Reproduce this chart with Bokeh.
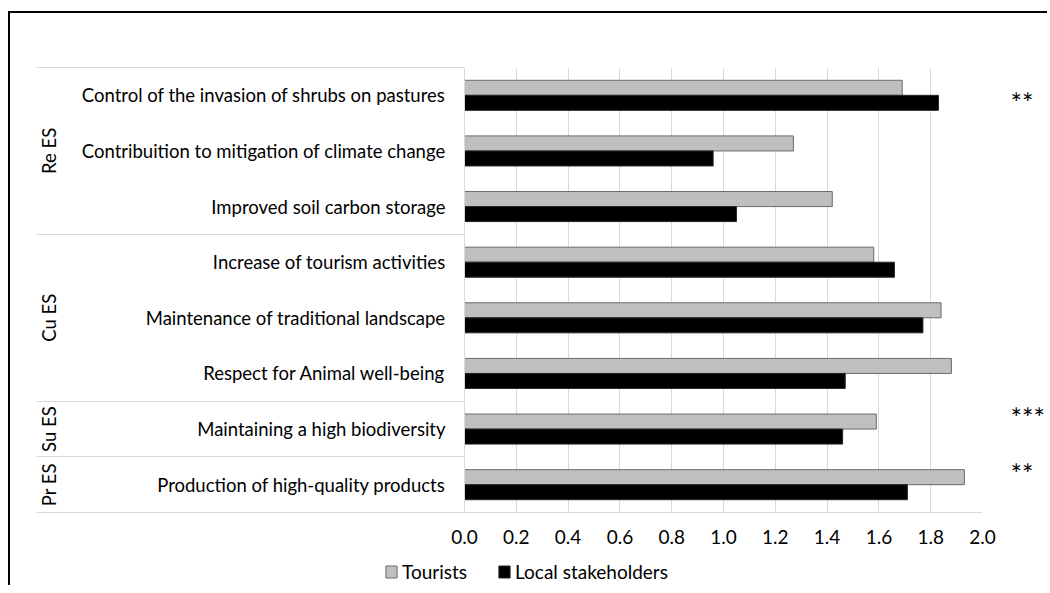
from bokeh.plotting import figure
from bokeh.layouts import column
from bokeh.models import (ColumnDataSource, FixedTicker, LinearAxis, Legend,
                          LegendItem, NumeralTickFormatter, Range1d)
from bokeh.embed import file_html
from bokeh.resources import INLINE

# ---------------- data ----------------
categories = [
    "Control of the invasion of shrubs on pastures",
    "Contribuition to mitigation of climate change",
    "Improved soil carbon storage",
    "Increase of tourism activities",
    "Maintenance of traditional landscape",
    "Respect for Animal well-being",
    "Maintaining a high biodiversity",
    "Production of high-quality products",
]
groups = ["Re ES", "Re ES", "Re ES", "Cu ES", "Cu ES", "Cu ES", "Su ES", "Pr ES"]
tourists = [1.69, 1.27, 1.42, 1.58, 1.84, 1.88, 1.59, 1.93]
local_stakeholders = [1.83, 0.96, 1.05, 1.66, 1.77, 1.47, 1.46, 1.71]
significance = ["**", "", "", "", "", "", "***", "**"]
x_ticks = [0.0, 0.2, 0.4, 0.6, 0.8, 1.0, 1.2, 1.4, 1.6, 1.8, 2.0]
series_names = ["Tourists", "Local stakeholders"]

# ---------------- layout / style ----------------
FONT = "Lato"
GRID = "#d9d9d9"
TXT = "#000000"
BAR_H = 0.27
DODGE = 0.135
star_shift = [-0.13, 0, 0, 0, 0, 0, 0.21, 0.2]
T_STYLE = dict(fill_color="#bfbfbf", line_color="#6b6b6b", line_width=1)
L_STYLE = dict(fill_color="#000000", line_color="#262626", line_width=1)

n = len(categories)
centers = [n - i - 0.5 for i in range(n)]

# group boundaries & centres
boundaries = [float(n)]
group_centers = {}
start = 0
for i in range(1, n + 1):
    if i == n or groups[i] != groups[i - 1]:
        boundaries.append(float(n - i))
        group_centers[(n - start + n - i) / 2.0] = groups[start]
        start = i

src_t = ColumnDataSource(dict(y=[c + DODGE for c in centers], v=tourists, cat=categories))
src_l = ColumnDataSource(dict(y=[c - DODGE for c in centers], v=local_stakeholders, cat=categories))

p = figure(frame_width=518, frame_height=445,
           x_range=Range1d(0, x_ticks[-1]), y_range=Range1d(0, n),
           output_backend="svg", toolbar_location=None,
           min_border_left=454, min_border_right=58,
           min_border_top=54, min_border_bottom=40)
p.outline_line_color = None
p.background_fill_color = "white"
p.border_fill_color = "white"

r_t = p.hbar(y="y", right="v", left=0, height=BAR_H, source=src_t, **T_STYLE)
r_l = p.hbar(y="y", right="v", left=0, height=BAR_H, source=src_l, **L_STYLE)

# x axis
xa = p.xaxis[0]
xa.ticker = FixedTicker(ticks=x_ticks)
xa.formatter = NumeralTickFormatter(format="0.0")
xa.axis_line_color = GRID
xa.major_tick_line_color = None
xa.minor_tick_line_color = None
xa.major_label_text_font = FONT
xa.major_label_text_font_size = "19px"
xa.major_label_text_color = TXT
xa.major_label_standoff = 11

p.xgrid.ticker = FixedTicker(ticks=x_ticks)
p.xgrid.grid_line_color = GRID
p.ygrid.grid_line_color = None

# y axis: category labels
ya = p.yaxis[0]
ya.ticker = FixedTicker(ticks=centers)
ya.major_label_overrides = {c: cat for c, cat in zip(centers, categories)}
ya.axis_line_color = GRID
ya.major_tick_line_color = None
ya.minor_tick_line_color = None
ya.major_label_text_font = FONT
ya.major_label_text_font_size = "18.5px"
ya.major_label_text_color = TXT
ya.major_label_standoff = 13

# group axis (outer left); its minor ticks draw the group separators
ga = LinearAxis(ticker=FixedTicker(ticks=list(group_centers.keys()),
                                   minor_ticks=boundaries),
                major_label_overrides=group_centers,
                major_label_orientation="vertical")
ga.axis_line_color = None
ga.major_tick_line_color = None
ga.minor_tick_line_color = GRID
ga.minor_tick_in = 386
ga.minor_tick_out = 42
ga.major_label_text_font = FONT
ga.major_label_text_font_size = "18.5px"
ga.major_label_text_color = TXT
ga.major_label_standoff = -23
p.add_layout(ga, "left")

# significance stars (right axis)
star_pos = [c + s for c, s, m in zip(centers, star_shift, significance) if m]
star_lab = [m for m in significance if m]
sa = LinearAxis(ticker=FixedTicker(ticks=star_pos),
                major_label_overrides={y: m for y, m in zip(star_pos, star_lab)})
sa.axis_line_color = None
sa.major_tick_line_color = None
sa.minor_tick_line_color = None
sa.major_label_text_font = FONT
sa.major_label_text_font_size = "27px"
sa.major_label_text_color = TXT
sa.major_label_standoff = 22
p.add_layout(sa, "right")

# ---------------- legend strip (separate figure below the chart) ----------------
lf = figure(width=1030, height=33, x_range=Range1d(0, 1), y_range=Range1d(0, 1),
            output_backend="svg", toolbar_location=None,
            x_axis_location=None, y_axis_location=None,
            min_border_left=0, min_border_right=0, min_border_top=0, min_border_bottom=0)
if "frame_align" in lf.properties():
    lf.frame_align = False
lf.grid.visible = False
lf.outline_line_color = None
lf.background_fill_color = "white"
lf.border_fill_color = "white"
# legend proxies: one zero-length bar each, outside the visible range
proxy = ColumnDataSource(dict(y=[-5.0], v=[0.0]))
lt = lf.hbar(y="y", right="v", left=0, height=0.5, source=proxy, **T_STYLE)
ll = lf.hbar(y="y", right="v", left=0, height=0.5, source=proxy, **L_STYLE)
legend = Legend(items=[LegendItem(label=series_names[0], renderers=[lt]),
                       LegendItem(label=series_names[1], renderers=[ll])],
                orientation="horizontal", location=(374, 2),
                glyph_width=14, glyph_height=15, label_standoff=4, spacing=30,
                padding=0, margin=0, border_line_color=None,
                background_fill_alpha=0,
                label_text_font=FONT, label_text_font_size="19px",
                label_text_color=TXT)
lf.add_layout(legend)

layout = column(p, lf, spacing=0,
                styles={"border-top": "2px solid #000", "border-left": "2px solid #000",
                        "margin-left": "8px", "margin-top": "11px"})

open("out.html", "w").write(file_html(layout, INLINE))
